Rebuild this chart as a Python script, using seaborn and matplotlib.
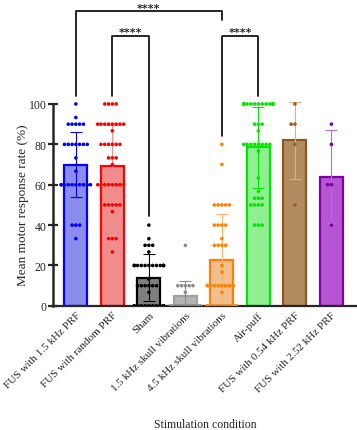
import numpy as np
import pandas as pd
import matplotlib
matplotlib.use("Agg")
import matplotlib.pyplot as plt
import seaborn as sns

conditions = ["FUS with 1.5 kHz PRF", "FUS with random PRF", "Sham",
              "1.5 kHz skull vibrations", "4.5 kHz skull vibrations", "Air-puff",
              "FUS with 0.54 kHz PRF", "FUS with 2.52 kHz PRF"]

# bar heights (mean) and error bars (SD)
means = [70, 69.5, 14, 5, 22.5, 78.5, 82, 64]
sds = [16, 20, 11.5, 7.5, 23, 20, 19, 23]

# individual response rates per condition (value, count)
pts_fus15 = [(100, 1), (93.3, 1), (90, 5), (80, 7), (73.3, 1), (66.7, 1), (60, 10), (40, 3), (33.3, 1)]
pts_random = [(100, 4), (90, 8), (86.7, 1), (80, 6), (73.3, 3), (70, 1), (60, 8), (50, 5), (46.7, 1), (33.3, 3), (26.7, 1)]
pts_sham = [(40, 1), (33.3, 1), (30, 3), (26.7, 1), (20, 12), (13.3, 1), (10, 6), (6.7, 1), (0, 12)]
pts_skull15 = [(30, 1), (10, 5), (6.7, 1), (0, 11)]
pts_skull45 = [(80, 1), (70, 1), (50, 5), (40, 4), (33.3, 1), (30, 4), (20, 1), (16.7, 1), (10, 8), (6.7, 1), (0, 10)]
pts_airpuff = [(100, 15), (90, 3), (86.7, 1), (80, 8), (76.7, 1), (63.3, 1), (56.7, 1), (53.3, 3), (50, 4), (40, 3)]
pts_f054 = [(100, 1), (90, 2), (80, 1), (50, 1)]
pts_f252 = [(90, 1), (80, 1), (60, 2), (40, 1)]
all_pts = [pts_fus15, pts_random, pts_sham, pts_skull15, pts_skull45, pts_airpuff, pts_f054, pts_f252]

dot_colors = ["#0000ff", "#ff0000", "#000000", "#8c8c8c", "#ff8000", "#00e600", "#99601f", "#7a00a0"]
fill_colors = ["#7b7bff", "#ff7b7b", "#7f7f7f", "#b4b4b4", "#ffbf80", "#80ff80", "#c08c50", "#c040e6"]
edge_colors = ["#0000ff", "#ff0000", "#000000", "#a0a0a0", "#ff8000", "#00e600", "#8b5a22", "#8000a8"]
err_colors = ["#0000ff", "#ff8c8c", "#000000", "#8c8c8c", "#ffb070", "#00e600", "#d2b48c", "#b070d0"]

rows = []
for cond, pts in zip(conditions, all_pts):
    for v, n in pts:
        rows += [(cond, v)] * n
df = pd.DataFrame(rows, columns=["condition", "rate"])

sns.set_style("ticks")
plt.rcParams['font.family'] = ['Liberation Serif', 'DejaVu Serif']

fig = plt.figure(figsize=(3.57, 4.31), dpi=100)
ax = fig.add_axes([0.148, 0.288, 0.852, 0.712])

sns.barplot(x=conditions, y=means, hue=conditions, palette=fill_colors, legend=False,
            width=0.63, ax=ax, zorder=1)
for patch, ec in zip(ax.patches, edge_colors):
    patch.set_edgecolor(ec)
    patch.set_linewidth(1.6)

for i, (m, s) in enumerate(zip(means, sds)):
    ax.errorbar(i, m, yerr=s, color=err_colors[i], capsize=4, lw=0.8, capthick=0.8, zorder=2)

sns.swarmplot(data=df, x="condition", y="rate", hue="condition", palette=dot_colors,
              order=conditions, size=2.6, legend=False, ax=ax, zorder=3, warn_thresh=1)

# significance brackets
def bracket(x1, x2, y, y1, y2, label):
    ax.plot([x1, x1, x2, x2], [y1, y, y, y2], color="black", lw=1.2, clip_on=False)
    ax.text((x1 + x2) / 2, y + 0.3, label, ha="center", va="baseline", fontsize=8,
            fontweight="bold", family="DejaVu Sans")

bracket(0, 4, 146, 104, 141.5, "****")
bracket(1, 2, 133.7, 104, 44.5, "****")
bracket(4, 5, 133.7, 84, 104, "****")

ax.set_xlim(-0.63, 7.7)
ax.set_ylim(0, 152)
ax.set_yticks([0, 20, 40, 60, 80, 100])
sns.despine(ax=ax)
ax.spines["left"].set_bounds(0, 100)
ax.spines["left"].set_linewidth(1.8)
ax.spines["bottom"].set_linewidth(1.6)
ax.tick_params(axis="y", labelsize=8.5, width=1.6, length=7, direction="inout", pad=1)
ax.tick_params(axis="x", labelsize=8, length=0, pad=3)
plt.setp(ax.get_xticklabels(), rotation=45, ha="right", rotation_mode="anchor")
ax.set_ylabel("Mean motor response rate (%)", fontsize=9.5)
ax.yaxis.set_label_coords(-0.078, 50.5 / 152)
ax.set_xlabel("Stimulation condition", fontsize=8.5)
ax.xaxis.set_label_coords(0.5, -0.365)

fig.savefig("out.png", dpi=100)
